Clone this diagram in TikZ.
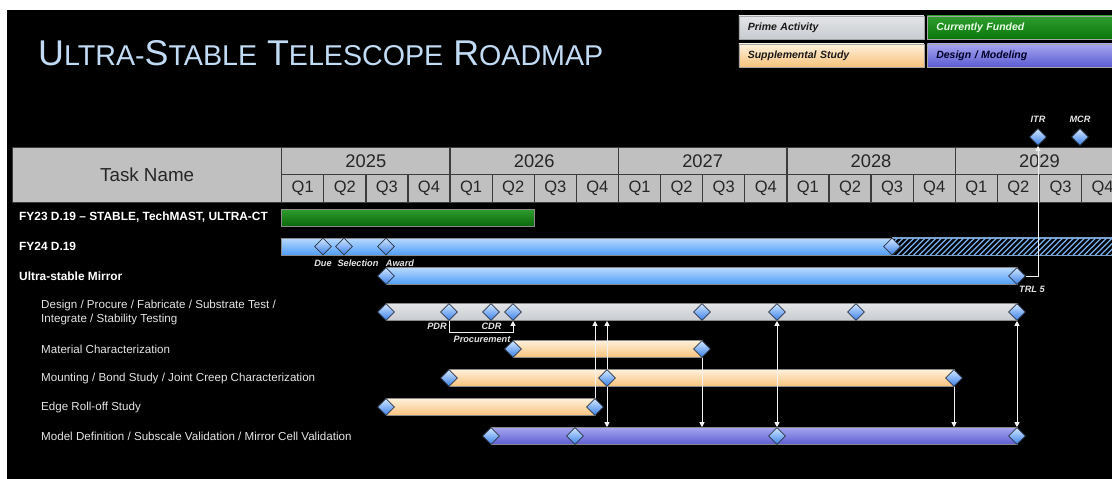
\documentclass[tikz,border=0pt]{standalone}
\usepackage{graphicx}
\usepackage{fontspec}
\setmainfont{Liberation Sans}
\usetikzlibrary{shapes.geometric,arrows.meta,calc}

\pgfdeclarelayer{canvas}
\pgfdeclarelayer{bars}
\pgfdeclarelayer{links}
\pgfsetlayers{canvas,bars,links,main}

\definecolor{titleblue}{HTML}{C2DBF5}
\definecolor{hdrfill}{HTML}{C0C0C0}
\definecolor{hdrline}{HTML}{3C3C3C}
\definecolor{barline}{HTML}{8A8A8A}
\definecolor{blueT}{HTML}{B9DAFF}
\definecolor{blueB}{HTML}{4E9DF7}
\definecolor{grayT}{HTML}{E3E5E8}
\definecolor{grayB}{HTML}{C8CBD0}
\definecolor{orT}{HTML}{FFF1DC}
\definecolor{orB}{HTML}{F7C27C}
\definecolor{puT}{HTML}{A6A6F0}
\definecolor{puB}{HTML}{5C5CD2}
\definecolor{grT}{HTML}{2F9E2F}
\definecolor{grB}{HTML}{0B680B}
\definecolor{msT}{HTML}{D2E7FF}
\definecolor{msB}{HTML}{3A7FE8}
\definecolor{msline}{HTML}{2B3445}
\definecolor{hatchblue}{HTML}{78B0F0}
\definecolor{linkwhite}{HTML}{F2F2F2}
\definecolor{labeltext}{HTML}{E4E4E4}

\begin{document}
\begin{tikzpicture}[x=1pt,y=-1pt,
  ganttbar/.style={rectangle, inner sep=0pt, minimum height=17pt, anchor=west, draw=barline, line width=0.6pt},
  bluebar/.style={ganttbar, top color=blueT, bottom color=blueB},
  graybar/.style={ganttbar, top color=grayT, bottom color=grayB},
  orangebar/.style={ganttbar, top color=orT, bottom color=orB},
  purplebar/.style={ganttbar, top color=puT, bottom color=puB},
  greenbar/.style={ganttbar, top color=grT, bottom color=grB},
  milestone/.style={diamond, aspect=1, inner sep=0pt, minimum width=17pt, minimum height=17pt,
    draw=msline, line width=0.6pt, top color=msT, bottom color=msB},
  link/.style={draw=linkwhite, line width=0.9pt},
  arr/.style={-{Triangle[width=5pt,length=5pt]}},
  twoway/.style={{Triangle[width=5pt,length=5pt]}-{Triangle[width=5pt,length=5pt]}},
  mlabel/.style={inner sep=0pt, text=labeltext, font=\fontsize{9.2}{11}\selectfont\bfseries\itshape},
  task/.style={anchor=west, inner sep=0pt, text=labeltext, font=\fontsize{11.6}{14.3}\selectfont, align=left},
  maintask/.style={anchor=west, inner sep=0pt, text=white, font=\fontsize{11.9}{14}\selectfont\bfseries},
  hdr/.style={rectangle, anchor=north west, draw=hdrline, line width=1.3pt, fill=hdrfill, inner sep=0pt, text=black!85},
  legbox/.style={rectangle, anchor=north west, draw=gray!70, line width=0.6pt, minimum height=23pt,
    text width=167pt, inner xsep=9pt, inner ysep=0pt, align=left, font=\fontsize{10.5}{12}\selectfont\bfseries\itshape}
]
\useasboundingbox (0,0) rectangle (1112,479);

% page and dark panel
\begin{pgfonlayer}{canvas}
  \fill[white] (0,0) rectangle (1112,479);
  \fill[black] (7,10) rectangle (1112,479);
\end{pgfonlayer}

% title
\node[anchor=base west, inner sep=0pt, text=titleblue] (title) at (38,65)
  {\resizebox{565pt}{25pt}{\fontsize{35}{35}\selectfont U{\fontsize{28}{28}\selectfont LTRA-}S{\fontsize{28}{28}\selectfont TABLE} T{\fontsize{28}{28}\selectfont ELESCOPE} R{\fontsize{28}{28}\selectfont OADMAP}}};

% legend
\node[legbox, top color=grayT, bottom color=grayB, text=black!90] (legprime) at (738.5,15.5) {Prime Activity};
\node[legbox, top color=grT, bottom color=grB!90!green, text=white!92!green] (legfund) at (927,15.5) {Currently Funded};
\node[legbox, top color=orT, bottom color=orB, text=black!90] (legsupp) at (738.5,43.5) {Supplemental Study};
\node[legbox, top color=puT, bottom color=puB, text=black!85!blue] (legdes) at (927,43.5) {Design / Modeling};

\begin{pgfonlayer}{bars}
  % table header
  \node[hdr, minimum width=269pt, minimum height=55pt, font=\fontsize{18.8}{18.8}\selectfont] (taskhdr) at (12,147) {Task Name};
  \foreach \yr [count=\i from 0] in {2025,2026,2027,2028,2029}
    \node[hdr, minimum width=168.4pt, minimum height=27.5pt, font=\fontsize{18.3}{18.3}\selectfont] (y\yr) at (281+\i*168.4,146.5) {\yr};
  \foreach \q in {0,...,19} {
    \pgfmathtruncatemacro\qn{mod(\q,4)+1}
    \node[hdr, minimum width=42.1pt, minimum height=28pt, font=\fontsize{16.5}{16.5}\selectfont] (q\q) at (281+\q*42.1,174) {Q\qn};
  }

  % task bars
  \node[greenbar, minimum width=253pt] (fy23) at (281,217.5) {};
  \node[bluebar, minimum width=611pt] (fy24) at (281,246.5) {};
  \node[ganttbar, fill=black, draw=hatchblue!70!gray, minimum width=223pt] (fy24h) at (892,246.5) {};
  \begin{scope}
    \clip (fy24h.south west) rectangle (fy24h.north east);
    \foreach \i in {0,...,44}
      \draw[hatchblue, line width=1.3pt] ($(fy24h.south west)+(\i*5.5-17,0)$) -- ++(17,-17);
  \end{scope}
  \draw[hatchblue!70!gray, line width=0.6pt] (fy24h.south west) rectangle (fy24h.north east);
  \node[bluebar, minimum width=631pt] (mirror) at (386,276) {};
  \node[graybar, minimum width=631pt] (design) at (386,312) {};
  \node[orangebar, minimum width=189pt] (material) at (513,349) {};
  \node[orangebar, minimum width=505pt] (mounting) at (449,378) {};
  \node[orangebar, minimum width=209pt] (edge) at (386,407) {};
  \node[purplebar, minimum width=526pt] (model) at (491,436) {};
\end{pgfonlayer}

% task names
\node[maintask] (lbl1) at (19,217.5) {FY23 D.19 – STABLE, TechMAST, ULTRA-CT};
\node[maintask] (lbl2) at (19,246.5) {FY24 D.19};
\node[maintask] (lbl3) at (19,276) {Ultra-stable Mirror};
\node[task] (lbl4) at (41,312.5) {Design / Procure / Fabricate / Substrate Test /\\Integrate / Stability Testing};
\node[task] (lbl5) at (41,349) {Material Characterization};
\node[task] (lbl6) at (41,378) {Mounting / Bond Study / Joint Creep Characterization};
\node[task] (lbl7) at (41,407) {Edge Roll-off Study};
\node[task] (lbl8) at (41,436) {Model Definition / Subscale Validation / Mirror Cell Validation};

% milestones
\node[milestone] (due) at (323,246.5) {};
\node[milestone] (sel) at (344,246.5) {};
\node[milestone] (awd) at (386,246.5) {};
\node[milestone] (fy24e) at (892,246.5) {};
\node[milestone] (us0) at (386,276) {};
\node[milestone] (trl) at (1017,276) {};
\node[milestone] (itr) at (1038,137) {};
\node[milestone] (mcr) at (1080,137) {};
\node[milestone] (d0) at (386,312) {};
\node[milestone] (pdr) at (449,312) {};
\node[milestone] (cdr) at (491,312) {};
\node[milestone] (d3) at (513,312) {};
\node[milestone] (d4) at (702,312) {};
\node[milestone] (d5) at (777,312) {};
\node[milestone] (d6) at (856,312) {};
\node[milestone] (d7) at (1017,312) {};
\node[milestone] (mc0) at (513,349) {};
\node[milestone] (mc1) at (702,349) {};
\node[milestone] (mt0) at (449,378) {};
\node[milestone] (mt1) at (607,378) {};
\node[milestone] (mt2) at (954,378) {};
\node[milestone] (er0) at (386,407) {};
\node[milestone] (er1) at (595,407) {};
\node[milestone] (md0) at (491,436) {};
\node[milestone] (md1) at (575,436) {};
\node[milestone] (md2) at (777,436) {};
\node[milestone] (md3) at (1017,436) {};

% milestone labels
\node[mlabel] (tdue) at (323,263) {Due};
\node[mlabel] (tsel) at (358,263) {Selection};
\node[mlabel] (tawd) at (400,263) {Award};
\node[mlabel] (ttrl) at (1032,289.5) {TRL 5};
\node[mlabel] (titr) at (1038,119.5) {ITR};
\node[mlabel] (tmcr) at (1080,119.5) {MCR};
\node[mlabel] (tpdr) at (437,326.5) {PDR};
\node[mlabel] (tcdr) at (491.5,326.5) {CDR};
\node[mlabel] (tproc) at (482,339) {Procurement};

% dependencies
\begin{pgfonlayer}{links}
  \draw[link, arr] (trl.east) -| (itr.south);
  \draw[link, arr] (pdr.south) |- ([yshift=-12pt]d3.south) -- (d3.south);
  \draw[link, arr] (er1.north) -- (er1.north |- design.south);
  \draw[link, twoway] (design.south -| mt1) -- (model.north -| mt1);
  \draw[link, arr] (mc1.south) -- (mc1.south |- model.north);
  \draw[link, twoway] (design.south -| d5) -- (model.north -| d5);
  \draw[link, arr] (mt2.south) -- (mt2.south |- model.north);
  \draw[link, twoway] (design.south -| d7) -- (model.north -| d7);
\end{pgfonlayer}
\end{tikzpicture}
\end{document}
